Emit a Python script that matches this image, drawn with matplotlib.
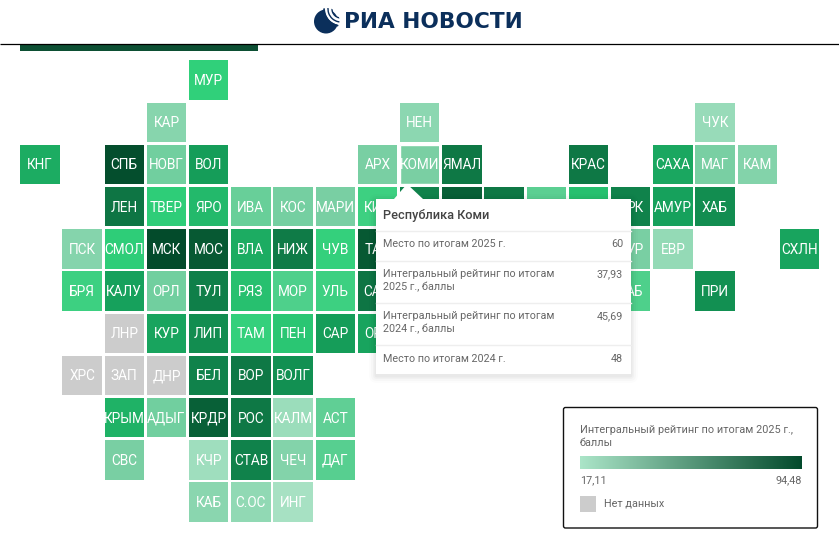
import numpy as np
import matplotlib as mpl
mpl.use('Agg')
import matplotlib.pyplot as plt
from matplotlib.colors import LinearSegmentedColormap, Normalize
from matplotlib.patches import Rectangle, FancyBboxPatch, Circle, Polygon, Arc

plt.rcParams['font.family'] = ['Roboto', 'DejaVu Sans']

# tile layout, "-" is an empty place, "_" a tile whose label is behind the tooltip
layout = [
    "- - - - МУР - - - - - - - - - - - - - -",
    "- - - КАР - - - - - НЕН - - - - - - ЧУК - -",
    "КНГ - СПБ НОВГ ВОЛ - - - АРХ КОМИ ЯМАЛ - - КРАС - САХА МАГ КАМ -",
    "- - ЛЕН ТВЕР ЯРО ИВА КОС МАРИ КИР _ _ _ _ _ ИРК АМУР ХАБ - -",
    "- ПСК СМОЛ МСК МОС ВЛА НИЖ ЧУВ ТАТ - - - - - БУР ЕВР - - СХЛН",
    "- БРЯ КАЛУ ОРЛ ТУЛ РЯЗ МОР УЛЬ САМ - - - - - ЗАБ - ПРИ - -",
    "- - ЛНР КУР ЛИП ТАМ ПЕН САР ОРЕ - - - - - - - - - -",
    "- ХРС ЗАП ДНР БЕЛ ВОР ВОЛГ - - - - - - - - - - - -",
    "- - КРЫМ АДЫГ КРДР РОС КАЛМ АСТ - - - - - - - - - - -",
    "- - СВС - КЧР СТАВ ЧЕЧ ДАГ - - - - - - - - - - -",
    "- - - - КАБ С.ОС ИНГ - - - - - - - - - - - -",
]

# values read by eye from the tile colours, in the order of the layout rows
scores_rows = [
    [55],
    [32, 30, 25],
    [66, 93, 40, 70, 38, 37.93, 81, 81, 67, 38, 34],
    [82, 56, 62, 42, 39, 38, 52, 78, 88, 81, 45, 60, 78, 69, 75],
    [33, 56, 94, 90, 66, 80, 54, 90, 38, 27, 68],
    [52, 69, 40, 79, 60, 48, 52, 82, 48, 74],
    [None, 68, 75, 54, 58, 70, 68],
    [None, None, None, 78, 81, 74],
    [64, 40, 88, 81, 24, 44],
    [38, 22, 78, 34, 46],
    [31, 28, 19],
]

# only this part of a label shows beside the tooltip
left_visible = {'КИР': 'КИ', 'ТАТ': 'ТА', 'САМ': 'СА', 'ОРЕ': 'ОР'}
right_visible = {'ИРК': 'РК', 'БУР': 'УР', 'ЗАБ': 'АБ'}

tooltip_title = "Республика Коми"
tooltip_rows = [
    ("Место по итогам 2025 г.", "60"),
    ("Интегральный рейтинг по итогам\n2025 г., баллы", "37,93"),
    ("Интегральный рейтинг по итогам\n2024 г., баллы", "45,69"),
    ("Место по итогам 2024 г.", "48"),
]
legend_title = "Интегральный рейтинг по итогам 2025 г.,\nбаллы"
legend_min, legend_max = 17.11, 94.48
legend_min_label, legend_max_label = "17,11", "94,48"
no_data_label = "Нет данных"

# colours of the tiles go light -> bright green -> dark
tile_cmap = LinearSegmentedColormap.from_list('tiles', [
    (0.0, '#abe3c6'), (0.27, '#79cfa3'), (0.49, '#30d07a'),
    (0.68, '#159f5a'), (0.85, '#0d7242'), (1.0, '#034a2a')])
norm = Normalize(legend_min, legend_max)
legend_cmap = LinearSegmentedColormap.from_list('legend', ['#abe5c8', '#034a2c'])

nrows = len(layout)
ncols = 19
names = [r.split() for r in layout]
Z = np.full((nrows, ncols), np.nan)
nodata = np.full((nrows, ncols), np.nan)
for r in range(nrows):
    vals = iter(scores_rows[r])
    for c in range(ncols):
        if names[r][c] == '-':
            continue
        v = next(vals)
        if v is None:
            nodata[r, c] = 1
        else:
            Z[r, c] = v

W, H = 839, 539
fig = plt.figure(figsize=(W/100, H/100), dpi=100, facecolor='white')

# tile map
x0, y0, pitch = 18.8, 59.0, 42.2
ax = fig.add_axes([x0/W, 1-(y0+pitch*nrows)/H, pitch*ncols/W, pitch*nrows/H])
mesh = ax.pcolormesh(np.ma.masked_invalid(Z), cmap=tile_cmap, norm=norm, edgecolors='white', linewidth=1.2)
mesh.set_snap(False)
mesh2 = ax.pcolormesh(np.ma.masked_invalid(nodata), cmap=LinearSegmentedColormap.from_list('nd', ['#cccccc', '#cccccc']),
                      edgecolors='white', linewidth=1.2)
mesh2.set_snap(False)
ax.set_xlim(0, ncols)
ax.set_ylim(nrows, 0)
ax.axis('off')
renderer = fig.canvas.get_renderer()
for r in range(nrows):
    for c in range(ncols):
        name = names[r][c]
        if name in ('-', '_'):
            continue
        t = ax.text(c+0.5, r+0.52, name, color='white', fontsize=9.8, ha='center', va='center', zorder=3)
        if name in left_visible or name in right_visible:
            bb = t.get_window_extent(renderer)
            inv = ax.transData.inverted()
            if name in left_visible:
                t.set_text(left_visible[name])
                t.set_ha('left')
                t.set_x(inv.transform((bb.x0, bb.y0))[0])
            else:
                t.set_text(right_visible[name])
                t.set_ha('right')
                t.set_x(inv.transform((bb.x1, bb.y0))[0])
        if name == 'КОМИ':
            ax.add_patch(Rectangle((c+0.03, r+0.03), 0.94, 0.94, fc='none', ec='white', lw=1.0, zorder=2))

# everything else is laid out in pixels on a top axes
top = fig.add_axes([0, 0, 1, 1], zorder=5)
top.set_xlim(0, W)
top.set_ylim(H, 0)
top.axis('off')
top.patch.set_alpha(0)

# header
top.plot([0, W], [44.3, 44.3], color='black', lw=0.9, solid_capstyle='butt')
top.add_patch(Rectangle((20, 45), 238, 6, fc='#0c4f33', ec='none'))
top.add_patch(Circle((326, 21.5), 12, fc='#0b2f5b', ec='none'))
logo_clip = Circle((327, 20.5), 12.5, transform=top.transData)
white_arc = Arc((341, 9), 25, 25, theta1=40, theta2=215, color='white', lw=5)
top.add_patch(white_arc)
for rad, lw in [(17, 1.2), (13, 1.0), (9, 1.0)]:
    stripe = Arc((341, 9), rad*2, rad*2, theta1=75, theta2=190, color='#0b2f5b', lw=lw)
    top.add_patch(stripe)
    stripe.set_clip_path(logo_clip)
top.text(344.5, 21.5, "РИА НОВОСТИ", color='#0b2f5b', fontsize=15.6, fontweight='bold', family='DejaVu Sans',
         ha='left', va='center')

# tooltip
for grow, a in [(7, 0.012), (5, 0.018), (3, 0.025), (1.5, 0.03)]:
    top.add_patch(FancyBboxPatch((376-grow, 199-grow+2), 255+2*grow, 175+2*grow,
                                 boxstyle="round,pad=0,rounding_size=%f" % (grow+1), fc='black', ec='none', alpha=a))
top.add_patch(Polygon([(394, 199), (407, 184), (423, 199)], closed=True, fc='white', ec='none'))
top.add_patch(Rectangle((376, 199), 255, 175, fc='white', ec='none'))
top.text(383, 215, tooltip_title, color='#444444', fontsize=9.2, fontweight='medium', ha='left', va='center')
row_y = [244, 280.5, 322.5, 359]
for y in [230.5, 260.5, 302.5, 344.5]:
    top.plot([376, 631], [y, y], color='#eeeeee', lw=1)
for (lab, val), y in zip(tooltip_rows, row_y):
    top.text(383, y, lab, color='#666666', fontsize=7.75, ha='left', va='center', linespacing=1.3)
    vy = y if '\n' not in lab else y-6.5
    top.text(623, vy, val, color='#666666', fontsize=7.75, ha='right', va='center')

# legend
top.add_patch(FancyBboxPatch((563.5, 407.5), 254, 120.5, boxstyle="round,pad=0,rounding_size=2",
                             fc='white', ec='#111111', lw=1))
top.text(580, 436.5, legend_title, color='#666666', fontsize=7.8, ha='left', va='center', linespacing=1.3)
ramp = np.linspace(legend_min, legend_max, 256).reshape(1, -1)
top.imshow(ramp, cmap=legend_cmap, norm=norm, extent=(580, 802, 469, 456), aspect='auto', zorder=2)
top.set_xlim(0, W)
top.set_ylim(H, 0)
top.text(580, 480.5, legend_min_label, color='#666666', fontsize=7.8, ha='left', va='center')
top.text(802, 480.5, legend_max_label, color='#666666', fontsize=7.8, ha='right', va='center')
top.add_patch(Rectangle((580, 496), 16, 16, fc='#cccccc', ec='none'))
top.text(604, 503.5, no_data_label, color='#666666', fontsize=7.8, ha='left', va='center')

fig.savefig('out.png', dpi=100)
